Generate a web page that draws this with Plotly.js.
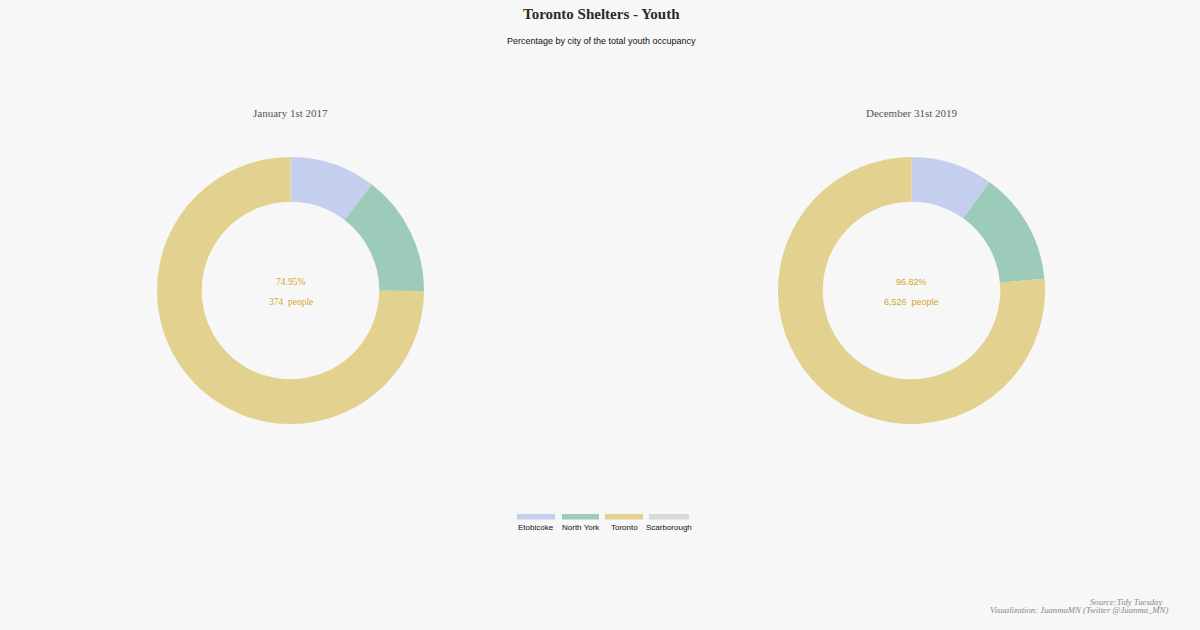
<!DOCTYPE html>
<html><head><meta charset="utf-8">
<script src="https://cdn.plot.ly/plotly-3.0.1.min.js"></script>
<style>html,body{margin:0;padding:0;background:#f7f7f7;}#chart{width:1200px;height:630px;}</style>
</head><body><div id="chart"></div>
<script>
const categories = ["Etobicoke", "North York", "Toronto", "Scarborough"];
const colors = ["#c4cfee", "#9dcbba", "#e2d18f", "#d9d9d9"];
const values2017 = [52, 73, 374, 0];
const values2019 = [846, 1170, 6526, 0];
const panelTitles = ["January 1st 2017", "December 31st 2019"];
const centerPct = ["74.95%", "96.82%"];
const centerPeople = ["374  people", "6,526  people"];

const W = 1200, H = 630;
function px(x){return x/W;}
function py(y){return 1 - y/H;}

function pie(vals, x0, x1, y0, y1){
  return {
    type: "pie", values: vals, labels: categories, sort: false,
    direction: "clockwise", rotation: 0, hole: 0.665,
    marker: {colors: colors, line: {width: 0}},
    textinfo: "none", hoverinfo: "label+value+percent",
    domain: {x: [px(x0), px(x1)], y: [py(y1), py(y0)]},
    showlegend: false
  };
}
const data = [
  pie(values2017, 157, 424, 157, 424),
  pie(values2019, 778, 1045, 157, 424)
];

const gold = "#d1a82a";
const annotations = [
  {text: "<b>Toronto Shelters - Youth</b>", x: px(601), y: py(14), font: {family: "Liberation Serif", size: 15, color: "#2a2a2a"}},
  {text: "Percentage by city of the total youth occupancy", x: px(601), y: py(41), font: {family: "Liberation Sans", size: 9, color: "#111"}},
  {text: panelTitles[0], x: px(290.5), y: py(113), font: {family: "Liberation Serif", size: 11, color: "#555"}},
  {text: panelTitles[1], x: px(912), y: py(113), font: {family: "Liberation Serif", size: 11, color: "#555"}},
  {text: centerPct[0], x: px(290.5), y: py(282), font: {family: "Liberation Serif", size: 9.5, color: gold}},
  {text: centerPeople[0], x: px(290.5), y: py(302), font: {family: "Liberation Serif", size: 9.5, color: gold}},
  {text: centerPct[1], x: px(911.5), y: py(282), font: {family: "Liberation Sans", size: 9, color: gold}},
  {text: centerPeople[1], x: px(911.5), y: py(302), font: {family: "Liberation Sans", size: 9, color: gold}},
  {text: "<i>Source:Tidy Tuesday</i>", x: px(1164), y: py(602), xanchor: "right", font: {family: "Liberation Serif", size: 8.7, color: "#888"}},
  {text: "<i>Visualization: JuanmaMN (Twitter @Juanma_MN)</i>", x: px(1170), y: py(610), xanchor: "right", font: {family: "Liberation Serif", size: 8.7, color: "#888"}}
].map(a => Object.assign({xref: "paper", yref: "paper", showarrow: false, xanchor: "center", yanchor: "middle"}, a));

// custom legend: swatch above label
const shapes = [];
const legX = [[517, 555], [562, 599], [605, 643], [649, 689]];
categories.forEach((c, i) => {
  shapes.push({type: "rect", xref: "paper", yref: "paper", x0: px(legX[i][0]), x1: px(legX[i][1]), y0: py(519.5), y1: py(514), fillcolor: colors[i], line: {width: 0}});
  annotations.push({text: c, xref: "paper", yref: "paper", x: px((legX[i][0] + legX[i][1]) / 2), y: py(527.5), showarrow: false, xanchor: "center", yanchor: "middle", font: {family: "Liberation Sans", size: 8, color: "#111"}});
});

const layout = {
  width: W, height: H,
  margin: {l: 0, r: 0, t: 0, b: 0},
  paper_bgcolor: "#f7f7f7", plot_bgcolor: "#f7f7f7",
  showlegend: false,
  annotations: annotations, shapes: shapes
};
Plotly.newPlot("chart", data, layout, {displayModeBar: false, staticPlot: true});
</script></body></html>
